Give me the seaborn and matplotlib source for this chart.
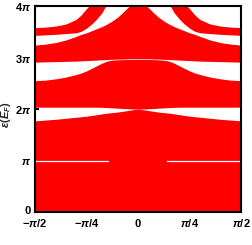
import numpy as np
import matplotlib
matplotlib.use("Agg")
import matplotlib.pyplot as plt
import matplotlib.transforms as mtransforms
import seaborn as sns

# ---- data (energies in units of pi, k in units of pi/2) ----
k_u = [-1.0, -0.9, -0.8, -0.7, -0.6, -0.55, -0.5, -0.45, -0.4, -0.35, -0.3, -0.25,
       -0.2, -0.15, -0.1, -0.05, 0.0, 0.05, 0.1, 0.15, 0.2, 0.25, 0.3, 0.35, 0.4,
       0.45, 0.5, 0.55, 0.6, 0.7, 0.8, 0.9, 1.0]

# lower edge of gap near 2pi (top of lowest band)
gap2_bot = [1.77, 1.785, 1.80, 1.82, 1.84, 1.85, 1.86, 1.875, 1.89, 1.905, 1.92, 1.93,
            1.94, 1.955, 1.97, 1.985, 2.0, 1.985, 1.97, 1.955, 1.94, 1.93, 1.92, 1.905, 1.89,
            1.875, 1.86, 1.85, 1.84, 1.82, 1.80, 1.785, 1.77]
# upper edge of gap near 2pi
gap2_top = [2.035, 2.035, 2.035, 2.035, 2.035, 2.035, 2.035, 2.035, 2.035, 2.032, 2.028, 2.022,
            2.016, 2.01, 2.005, 2.0, 2.0, 2.0, 2.005, 2.01, 2.016, 2.022, 2.028, 2.032, 2.035,
            2.035, 2.035, 2.035, 2.035, 2.035, 2.035, 2.035, 2.035]
# lower edge of gap near 3pi
gap3_bot = [2.55, 2.56, 2.585, 2.62, 2.67, 2.70, 2.74, 2.79, 2.84, 2.89, 2.93, 2.948,
            2.955, 2.958, 2.96, 2.962, 2.962, 2.962, 2.96, 2.958, 2.955, 2.948, 2.93, 2.89, 2.84,
            2.79, 2.74, 2.70, 2.67, 2.62, 2.585, 2.56, 2.55]
# upper edge of gap near 3pi
gap3_top = [2.91, 2.915, 2.92, 2.925, 2.93, 2.935, 2.94, 2.945, 2.95, 2.955, 2.96, 2.965,
            2.97, 2.97, 2.975, 2.975, 2.975, 2.975, 2.975, 2.97, 2.97, 2.965, 2.96, 2.955, 2.95,
            2.945, 2.94, 2.935, 2.93, 2.925, 2.92, 2.915, 2.91]
# top of the large third band
band3_top = [3.24, 3.26, 3.29, 3.34, 3.41, 3.45, 3.48, 3.52, 3.56, 3.60, 3.65, 3.71,
             3.78, 3.87, 3.97, 4.05, 4.05, 4.05, 3.97, 3.87, 3.78, 3.71, 3.65, 3.60, 3.56,
             3.52, 3.48, 3.45, 3.41, 3.34, 3.29, 3.26, 3.24]
# thin upper band: lower and upper edges
band4_bot = [3.43, 3.44, 3.45, 3.465, 3.48, 3.51, 3.57, 3.65, 3.75, 3.87, 4.05, 4.05,
             4.05, 4.05, 4.05, 4.05, 4.05, 4.05, 4.05, 4.05, 4.05, 4.05, 4.05, 3.87, 3.75,
             3.65, 3.57, 3.51, 3.48, 3.465, 3.45, 3.44, 3.43]
band4_top = [3.58, 3.59, 3.61, 3.65, 3.74, 3.83, 3.95, 4.05, 4.05, 4.05, 4.05, 4.05,
             4.05, 4.05, 4.05, 4.05, 4.05, 4.05, 4.05, 4.05, 4.05, 4.05, 4.05, 4.05, 4.05,
             4.05, 3.95, 3.83, 3.74, 3.65, 3.61, 3.59, 3.58]

# thin gap line at pi (k ranges, units of pi/2)
pi_line_left = [-1.0, -0.29]
pi_line_right = [0.28, 1.0]

xtick_vals = [-0.5, -0.25, 0.0, 0.25, 0.5]
xtick_labels = [r"$-\pi/2$", r"$-\pi/4$", r"$0$", r"$\pi/4$", r"$\pi/2$"]
ytick_vals = [0, 1, 2, 3, 4]
ytick_labels = [r"$0$", r"$\pi$", r"$2\pi$", r"$3\pi$", r"$4\pi$"]

# ---- style ----
sns.set_style("ticks")
plt.rcParams["font.family"] = ["Liberation Sans", "DejaVu Sans"]
plt.rcParams["mathtext.fontset"] = "custom"
plt.rcParams["mathtext.rm"] = "Liberation Sans:bold"
plt.rcParams["mathtext.bf"] = "Liberation Sans:bold"
plt.rcParams["mathtext.it"] = "Liberation Sans:bold:italic"
plt.rcParams["mathtext.sf"] = "Liberation Sans:bold"

fig = plt.figure(figsize=(2.52, 2.45), dpi=100)
ax = fig.add_axes([35 / 252, 1 - 212 / 245, 206 / 252, 206 / 245])

red = "#ff0000"
k = np.array(k_u) * np.pi / 2
P = np.pi
ax.fill_between(k, 0, np.array(gap2_bot) * P, color=red, lw=0)
ax.fill_between(k, np.array(gap2_top) * P, np.array(gap3_bot) * P, color=red, lw=0)
ax.fill_between(k, np.array(gap3_top) * P, np.array(band3_top) * P, color=red, lw=0)
ax.fill_between(k, np.array(band4_bot) * P, np.array(band4_top) * P, color=red, lw=0)

for seg in (pi_line_left, pi_line_right):
    sns.lineplot(x=np.array(seg) * np.pi / 2, y=[np.pi, np.pi], color="white",
                 lw=0.9, ax=ax)

ax.set_xlim(-np.pi / 2, np.pi / 2)
ax.set_ylim(0, 4 * np.pi)
ax.set_xticks(np.array(xtick_vals) * np.pi)
ax.set_xticklabels(xtick_labels)
ax.set_yticks(np.array(ytick_vals) * np.pi)
ax.set_yticklabels(ytick_labels)
ax.tick_params(direction="in", length=3, width=1.5, labelsize=8, colors="black")
ax.tick_params(axis="y", pad=2.5)
ax.tick_params(axis="x", pad=3.5)
for s in ax.spines.values():
    s.set_visible(True)
    s.set_linewidth(1.5)
    s.set_color("black")

# nudge the "0" y tick label up slightly so it clears the x tick labels
zero_lab = ax.get_yticklabels()[0]
zero_lab.set_transform(zero_lab.get_transform()
                       + mtransforms.ScaledTranslation(0, 2.5 / 72, fig.dpi_scale_trans))

ax.set_ylabel(r"$\varepsilon(E_F)$", fontsize=8)
ax.yaxis.set_label_coords(-0.105, 0.47)

fig.savefig("out.png", dpi=100)
